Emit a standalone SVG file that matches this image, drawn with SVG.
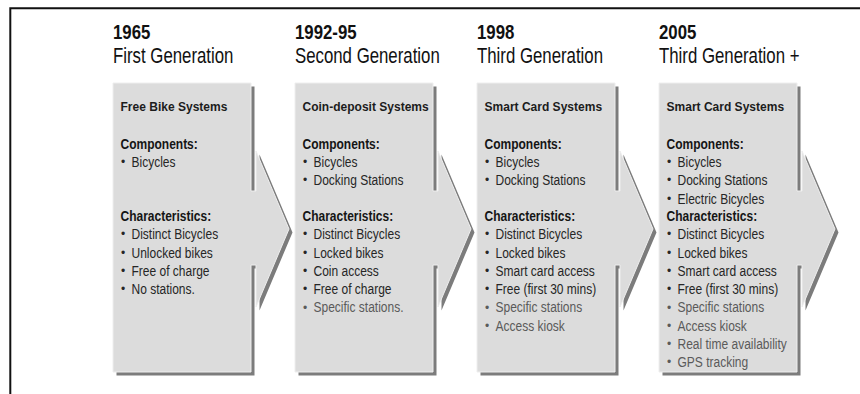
<svg xmlns="http://www.w3.org/2000/svg" xmlns:xlink="http://www.w3.org/1999/xlink" width="860" height="394" viewBox="0 0 860 394">
  <style>
    text { font-family: "Liberation Sans", Arial, sans-serif; fill: #222; }
    /* condensed look: squeeze each run horizontally around its own left edge */
    .sq { transform-box: fill-box; transform-origin: 0 0; }
    .yr { font-size: 21px; font-weight: bold; fill: #111; transform: scaleX(0.8); }
    .gen { font-size: 22.5px; fill: #111; transform: scaleX(0.747); }
    .ttl { font-size: 13px; font-weight: bold; fill: #1c1c1c; transform: scaleX(0.925); }
    .hd { font-size: 15px; font-weight: bold; fill: #151515; transform: scaleX(0.8); }
    .it { font-size: 15px; fill: #262626; transform: scaleX(0.8); }
    .it.dim { fill: #5a5a5a; }
    .bul { font-size: 12px; fill: #262626; }
    .bul.dim { fill: #5a5a5a; }
    .card { fill: #dcdcdc; stroke: #eeeeee; stroke-width: 1; }
    .shade { fill: #7c7c7c; }
    .frame { fill: none; stroke: #111; stroke-width: 2; }
  </style>
  <defs>
    <!-- card body with a short shaft and arrowhead pointing to the next card -->
    <path id="card-shape" d="M0,0 H138 V108 H143 V68 L176,146 L143,224 V182 H138 V289 H0 Z"/>
  </defs>

  <rect width="860" height="394" fill="#ffffff"/>
  <path class="frame" d="M10.3,395 V8.3 H861"/>

  <!-- 1965 -->
  <g id="gen1" transform="translate(113,0)">
    <text class="sq yr" x="0" y="39">1965</text>
    <text class="sq gen" x="0" y="63.5">First Generation</text>
    <g transform="translate(0,83)">
      <use xlink:href="#card-shape" class="shade" x="3.5" y="3.5"/>
      <use xlink:href="#card-shape" class="card"/>
    </g>
    <text class="sq ttl" x="7.5" y="111.5">Free Bike Systems</text>
    <text class="sq hd" x="7.5" y="148.8">Components:</text>
    <text class="bul" x="8" y="166">•</text><text class="sq it" x="18.5" y="167">Bicycles</text>
    <text class="sq hd" x="7.5" y="221">Characteristics:</text>
    <text class="bul" x="8" y="238.3">•</text><text class="sq it" x="18.5" y="239.3">Distinct Bicycles</text>
    <text class="bul" x="8" y="256.6">•</text><text class="sq it" x="18.5" y="257.6">Unlocked bikes</text>
    <text class="bul" x="8" y="274.9">•</text><text class="sq it" x="18.5" y="275.9">Free of charge</text>
    <text class="bul" x="8" y="293.2">•</text><text class="sq it" x="18.5" y="294.2">No stations.</text>
  </g>

  <!-- 1992-95 -->
  <g id="gen2" transform="translate(295,0)">
    <text class="sq yr" x="0" y="39">1992-95</text>
    <text class="sq gen" x="0" y="63.5">Second Generation</text>
    <g transform="translate(0,83)">
      <use xlink:href="#card-shape" class="shade" x="3.5" y="3.5"/>
      <use xlink:href="#card-shape" class="card"/>
    </g>
    <text class="sq ttl" x="7.5" y="111.5">Coin-deposit Systems</text>
    <text class="sq hd" x="7.5" y="148.8">Components:</text>
    <text class="bul" x="8" y="166">•</text><text class="sq it" x="18.5" y="167">Bicycles</text>
    <text class="bul" x="8" y="184.3">•</text><text class="sq it" x="18.5" y="185.3">Docking Stations</text>
    <text class="sq hd" x="7.5" y="221">Characteristics:</text>
    <text class="bul" x="8" y="238.3">•</text><text class="sq it" x="18.5" y="239.3">Distinct Bicycles</text>
    <text class="bul" x="8" y="256.6">•</text><text class="sq it" x="18.5" y="257.6">Locked bikes</text>
    <text class="bul" x="8" y="274.9">•</text><text class="sq it" x="18.5" y="275.9">Coin access</text>
    <text class="bul" x="8" y="293.2">•</text><text class="sq it" x="18.5" y="294.2">Free of charge</text>
    <text class="bul dim" x="8" y="311.5">•</text><text class="sq it dim" x="18.5" y="312.5">Specific stations.</text>
  </g>

  <!-- 1998 -->
  <g id="gen3" transform="translate(477,0)">
    <text class="sq yr" x="0" y="39">1998</text>
    <text class="sq gen" x="0" y="63.5">Third Generation</text>
    <g transform="translate(0,83)">
      <use xlink:href="#card-shape" class="shade" x="3.5" y="3.5"/>
      <use xlink:href="#card-shape" class="card"/>
    </g>
    <text class="sq ttl" x="7.5" y="111.5">Smart Card Systems</text>
    <text class="sq hd" x="7.5" y="148.8">Components:</text>
    <text class="bul" x="8" y="166">•</text><text class="sq it" x="18.5" y="167">Bicycles</text>
    <text class="bul" x="8" y="184.3">•</text><text class="sq it" x="18.5" y="185.3">Docking Stations</text>
    <text class="sq hd" x="7.5" y="221">Characteristics:</text>
    <text class="bul" x="8" y="238.3">•</text><text class="sq it" x="18.5" y="239.3">Distinct Bicycles</text>
    <text class="bul" x="8" y="256.6">•</text><text class="sq it" x="18.5" y="257.6">Locked bikes</text>
    <text class="bul" x="8" y="274.9">•</text><text class="sq it" x="18.5" y="275.9">Smart card access</text>
    <text class="bul" x="8" y="293.2">•</text><text class="sq it" x="18.5" y="294.2">Free (first 30 mins)</text>
    <text class="bul dim" x="8" y="311.5">•</text><text class="sq it dim" x="18.5" y="312.5">Specific stations</text>
    <text class="bul dim" x="8" y="329.8">•</text><text class="sq it dim" x="18.5" y="330.8">Access kiosk</text>
  </g>

  <!-- 2005 -->
  <g id="gen3plus" transform="translate(659,0)">
    <text class="sq yr" x="0" y="39">2005</text>
    <text class="sq gen" x="0" y="63.5">Third Generation +</text>
    <g transform="translate(0,83)">
      <use xlink:href="#card-shape" class="shade" x="3.5" y="3.5"/>
      <use xlink:href="#card-shape" class="card"/>
    </g>
    <text class="sq ttl" x="7.5" y="111.5">Smart Card Systems</text>
    <text class="sq hd" x="7.5" y="148.8">Components:</text>
    <text class="bul" x="8" y="166">•</text><text class="sq it" x="18.5" y="167">Bicycles</text>
    <text class="bul" x="8" y="184.3">•</text><text class="sq it" x="18.5" y="185.3">Docking Stations</text>
    <text class="bul" x="8" y="202.6">•</text><text class="sq it" x="18.5" y="203.6">Electric Bicycles</text>
    <text class="sq hd" x="7.5" y="221">Characteristics:</text>
    <text class="bul" x="8" y="238.3">•</text><text class="sq it" x="18.5" y="239.3">Distinct Bicycles</text>
    <text class="bul" x="8" y="256.6">•</text><text class="sq it" x="18.5" y="257.6">Locked bikes</text>
    <text class="bul" x="8" y="274.9">•</text><text class="sq it" x="18.5" y="275.9">Smart card access</text>
    <text class="bul" x="8" y="293.2">•</text><text class="sq it" x="18.5" y="294.2">Free (first 30 mins)</text>
    <text class="bul dim" x="8" y="311.5">•</text><text class="sq it dim" x="18.5" y="312.5">Specific stations</text>
    <text class="bul dim" x="8" y="329.8">•</text><text class="sq it dim" x="18.5" y="330.8">Access kiosk</text>
    <text class="bul dim" x="8" y="348.1">•</text><text class="sq it dim" x="18.5" y="349.1">Real time availability</text>
    <text class="bul dim" x="8" y="366.4">•</text><text class="sq it dim" x="18.5" y="367.4">GPS tracking</text>
  </g>
</svg>
